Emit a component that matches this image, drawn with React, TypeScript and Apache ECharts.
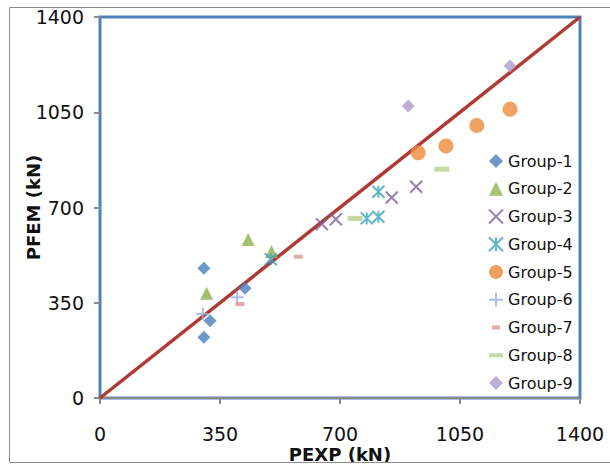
import React, { useEffect, useRef } from "react";
import * as echarts from "echarts";

const groupNames = ["Group-1", "Group-2", "Group-3", "Group-4", "Group-5", "Group-6", "Group-7", "Group-8", "Group-9"];

const g1x = [303, 423, 321, 303];
const g1y = [477, 403, 284, 223];
const g2x = [432, 311, 500];
const g2y = [582, 385, 538];
const g3x = [922, 851, 688, 647];
const g3y = [776, 737, 657, 639];
const g4x = [498, 812, 778, 812];
const g4y = [510, 758, 660, 666];
const g5x = [928, 1009, 1099, 1196];
const g5y = [901, 926, 1001, 1061];
const g6x = [400, 300];
const g6y = [370, 309];
const g7x = [408, 578];
const g7y = [345, 519];
const g8x = [997, 744];
const g8y = [841, 660];
const g9x = [899, 1196];
const g9y = [1073, 1220];
const refLine = [0, 1400];

const colors = ["#4A7EBB", "#8DB04C", "#7D5FA0", "#3CA3BD", "#F08A3A", "#93AEDB", "#DD9595", "#B5D18A", "#AE9CCB"];

const pts = (xs: number[], ys: number[]) => xs.map((x, i) => [x, ys[i]]);

const X_PATH = "path://M0,0 L10,10 M10,0 L0,10";
const STAR_PATH = "path://M0,0 L10,10 M10,0 L0,10 M5,0 L5,10";
const PLUS_PATH = "path://M5,0 L5,10 M0,5 L10,5";

export default function App() {
  const ref = useRef<HTMLDivElement>(null);
  useEffect(() => {
    if (!ref.current) return;
    const chart = echarts.init(ref.current, undefined, { renderer: "svg" });
    const font = "DejaVu Sans";
    const data = [pts(g1x, g1y), pts(g2x, g2y), pts(g3x, g3y), pts(g4x, g4y), pts(g5x, g5y), pts(g6x, g6y), pts(g7x, g7y), pts(g8x, g8y), pts(g9x, g9y)];
    const symbols: any[] = ["diamond", "triangle", X_PATH, STAR_PATH, "circle", PLUS_PATH, "rect", "rect", "diamond"];
    const sizes: any[] = [13, 13, 12, 12, 15, 13, [9, 4], [15, 5], 13];
    const stroked = [false, false, true, true, false, true, false, false, false];
    const series: any[] = [
      {
        type: "line",
        name: "ref",
        data: refLine.map((v) => [v, v]),
        symbol: "none",
        lineStyle: { color: "#B03A34", width: 3.5 },
        z: 1,
      },
      ...groupNames.map((name, i) => ({
        type: "scatter",
        name,
        data: data[i],
        symbol: symbols[i],
        symbolSize: sizes[i],
        z: 3,
        itemStyle: stroked[i]
          ? { color: colors[i], borderColor: colors[i], borderWidth: 2 }
          : { color: colors[i] },
      })),
    ];
    const legendIcons: any = {
      "Group-7": "path://M0,0 M3,5 L11,5 L11,9 L3,9 Z M14,14",
      "Group-8": "path://M0,0 M0,5 L14,5 L14,9 L0,9 Z M14,14",
    };
    const fmt = (v: number) => String(v);
    chart.setOption({
      animation: false,
      backgroundColor: "#fff",
      grid: {
        left: 100,
        top: 17,
        right: 30,
        bottom: 68,
        outerBoundsMode: "none",
        containLabel: false,
        show: true,
        borderColor: "#4F81BD",
        borderWidth: 3,
        backgroundColor: "transparent",
      },
      legend: {
        orient: "vertical",
        left: 483,
        top: 148,
        itemWidth: 14,
        itemHeight: 14,
        itemGap: 11.75,
        textStyle: { fontFamily: font, fontSize: 16, color: "#111", lineHeight: 16 },
        data: groupNames.map((n) => (legendIcons[n] ? { name: n, icon: legendIcons[n] } : { name: n })),
      },
      xAxis: {
        type: "value",
        min: 0,
        max: 1400,
        interval: 350,
        name: "PEXP (kN)",
        nameLocation: "middle",
        nameGap: 47,
        nameMoveOverlap: false,
        nameTextStyle: { fontFamily: font, fontSize: 18, fontWeight: "bold", color: "#111", lineHeight: 18 },
        axisLine: { show: true, lineStyle: { color: "#8A8A8A", width: 2 } },
        axisTick: { show: true, inside: false, length: 6, lineStyle: { color: "#8A8A8A", width: 2 } },
        axisLabel: {
          margin: 28,
          fontFamily: font,
          fontSize: 19,
          lineHeight: 16,
          color: "#111",
          formatter: fmt,
        },
        splitLine: { show: false },
      },
      yAxis: {
        type: "value",
        min: 0,
        max: 1400,
        interval: 350,
        name: "PFEM (kN)",
        nameLocation: "middle",
        nameGap: 58,
        nameMoveOverlap: false,
        nameTextStyle: { fontFamily: font, fontSize: 18, fontWeight: "bold", color: "#111" },
        axisLine: { show: false },
        axisTick: { show: true, inside: false, length: 6, lineStyle: { color: "#8A8A8A", width: 2 } },
        axisLabel: { margin: 16, fontFamily: font, fontSize: 19, color: "#111", formatter: fmt },
        splitLine: { show: false },
      },
      graphic: [
        {
          type: "rect",
          z: 100,
          shape: { x: 0, y: 462.5, width: 610, height: 10 },
          style: { fill: "#fff" },
        },
        {
          type: "rect",
          z: 101,
          shape: { x: 9.5, y: 7.5, width: 640, height: 455 },
          style: { fill: "none", stroke: "#8C8C8C", lineWidth: 1 },
        },
      ],
      series,
    });
    return () => chart.dispose();
  }, []);
  return <div ref={ref} style={{ position: "fixed", left: 0, top: 0, width: 610, height: 466 }} />;
}
